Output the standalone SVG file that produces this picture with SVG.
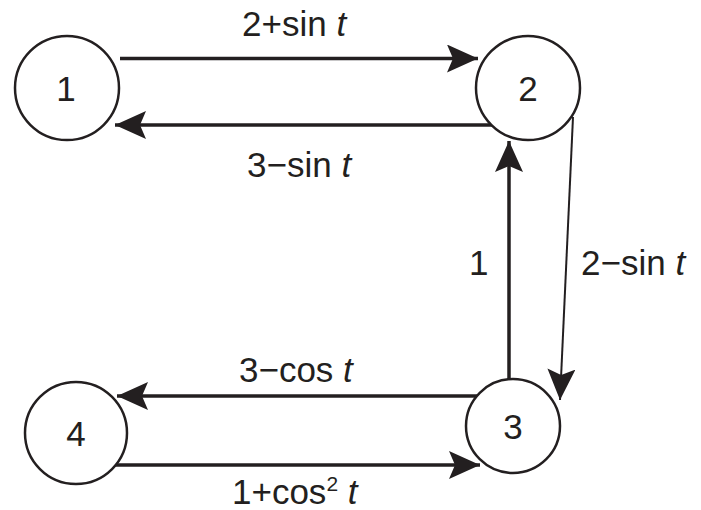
<svg xmlns="http://www.w3.org/2000/svg" width="701" height="510" viewBox="0 0 701 510">
<style>
.node{fill:#fff;stroke:#231f20;stroke-width:2.5}
.nl{font-family:"Liberation Sans",Arial,sans-serif;font-size:35px;fill:#231f20;text-anchor:middle}
.el{font-family:"Liberation Sans",Arial,sans-serif;font-size:35px;fill:#231f20}
.it{font-style:italic}
.e{stroke:#231f20;stroke-width:3.5;fill:none}
.thin{stroke:#231f20;stroke-width:2;fill:none}
</style>
<defs>
<marker id="ah" markerWidth="32" markerHeight="28" refX="31" refY="14" orient="auto" markerUnits="userSpaceOnUse">
<path d="M0,0 L31,14 L0,28 L6,14 Z" fill="#231f20"/>
</marker>
</defs>
<rect width="701" height="510" fill="#fff"/>
<g id="connectors">
<line class="e" x1="120" y1="58.5" x2="478" y2="58.5" marker-end="url(#ah)"/>
<line class="e" x1="493" y1="125" x2="115" y2="125" marker-end="url(#ah)"/>
<line class="e" x1="509" y1="380" x2="509" y2="141" marker-end="url(#ah)"/>
<line class="thin" x1="573" y1="117" x2="560" y2="400" marker-end="url(#ah)"/>
<line class="e" x1="478" y1="396" x2="117" y2="396" marker-end="url(#ah)"/>
<line class="e" x1="113" y1="465" x2="480" y2="465" marker-end="url(#ah)"/>
<text class="el" x="242" y="36">2+sin <tspan class="it">t</tspan></text>
<text class="el" x="247" y="177">3−sin <tspan class="it">t</tspan></text>
<text class="el" x="469" y="275">1</text>
<text class="el" x="581" y="275">2−sin <tspan class="it">t</tspan></text>
<text class="el" x="239" y="382">3−cos <tspan class="it">t</tspan></text>
<text class="el" x="232" y="504">1+cos<tspan font-size="21" dy="-13">2</tspan><tspan dy="13"> </tspan><tspan class="it">t</tspan></text>
</g>
<g id="node1"><circle class="node" cx="67" cy="88" r="52"/><text class="nl" x="66" y="101">1</text></g>
<g id="node2"><circle class="node" cx="528" cy="88" r="52"/><text class="nl" x="528" y="101">2</text></g>
<g id="node3"><circle class="node" cx="513" cy="426" r="47"/><text class="nl" x="513" y="439">3</text></g>
<g id="node4"><circle class="node" cx="76" cy="433" r="51"/><text class="nl" x="76" y="446">4</text></g>
</svg>
